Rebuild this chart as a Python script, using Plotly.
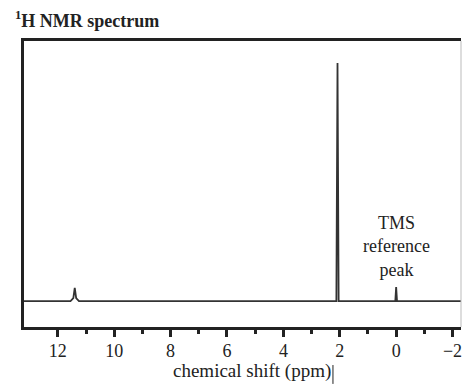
import plotly.graph_objects as go

# Spectrum trace (ppm, relative intensity)
shift_ppm = [13.2, 11.55, 11.45, 11.40, 11.35, 11.25, 2.12, 2.08, 2.04, 0.03, 0.0, -0.03, -2.30]
intensity = [0, 0, 1.2, 5.5, 1.2, 0, 0, 100, 0, 0, 5.9, 0, 0]

tick_values = [12, 10, 8, 6, 4, 2, 0, -2]
tick_labels = ["12", "10", "8", "6", "4", "2", "0", "\u22122"]
minor_tick_values = [11, 9, 7, 5, 3, 1, -1]

title_text = "<sup>1</sup>H NMR spectrum"
x_title = "chemical shift (ppm)"
tms_label = "TMS<br>reference<br>peak"

SERIF = "Liberation Serif, Times New Roman, serif"
INK = "#222222"

fig = go.Figure()
fig.add_trace(go.Scatter(
    x=shift_ppm, y=intensity, mode="lines",
    line=dict(color="#333333", width=1.8),
    hoverinfo="skip", showlegend=False,
))

fig.add_annotation(
    x=0.0, y=22.7, xref="x", yref="y", text=tms_label, showarrow=False,
    font=dict(family=SERIF, size=18, color=INK), align="center",
    yanchor="middle", xanchor="center",
)
fig.add_annotation(
    x=-11 / 437, y=1, xref="paper", yref="paper", text="<b>" + title_text + "</b>",
    showarrow=False, xanchor="left", yanchor="bottom", yshift=8,
    font=dict(family=SERIF, size=18, color=INK),
)
fig.add_annotation(
    x=5.1, y=0, xref="x", yref="paper", text=x_title, showarrow=False,
    xanchor="center", yanchor="bottom", yshift=-57,
    font=dict(family=SERIF, size=19, color=INK),
)
# right border (faint)
fig.add_shape(type="line", xref="paper", yref="paper", x0=1, x1=1, y0=0, y1=1,
              line=dict(color="#bbbbbb", width=1))
# small vertical bar after the axis title
fig.add_shape(type="line", xref="paper", yref="paper", x0=0.707, x1=0.707,
              y0=-0.133, y1=-0.199, line=dict(color=INK, width=1))

fig.update_layout(
    width=462, height=384,
    margin=dict(l=24, r=1, t=41, b=57),
    paper_bgcolor="white", plot_bgcolor="white",
    xaxis=dict(
        range=[13.2, -2.30], tickvals=tick_values, ticktext=tick_labels,
        ticks="outside", ticklen=7, tickwidth=2.5, tickcolor=INK,
        minor=dict(tickvals=minor_tick_values, ticks="outside", ticklen=4,
                   tickwidth=2.5, tickcolor=INK),
        showline=True, linecolor=INK, linewidth=3, mirror=True,
        showgrid=False, zeroline=False, ticklabeloverflow="allow",
        ticklabelstandoff=-2,
        tickfont=dict(family=SERIF, size=18, color=INK),
    ),
    yaxis=dict(
        range=[-10.9, 109.2], showticklabels=False, ticks="",
        showline=True, linecolor=INK, linewidth=3,
        showgrid=False, zeroline=False,
    ),
)

fig.write_html(
    "out.html",
    config={"displayModeBar": False},
    post_script="document.body.style.margin='0';document.body.style.overflow='hidden';",
)
